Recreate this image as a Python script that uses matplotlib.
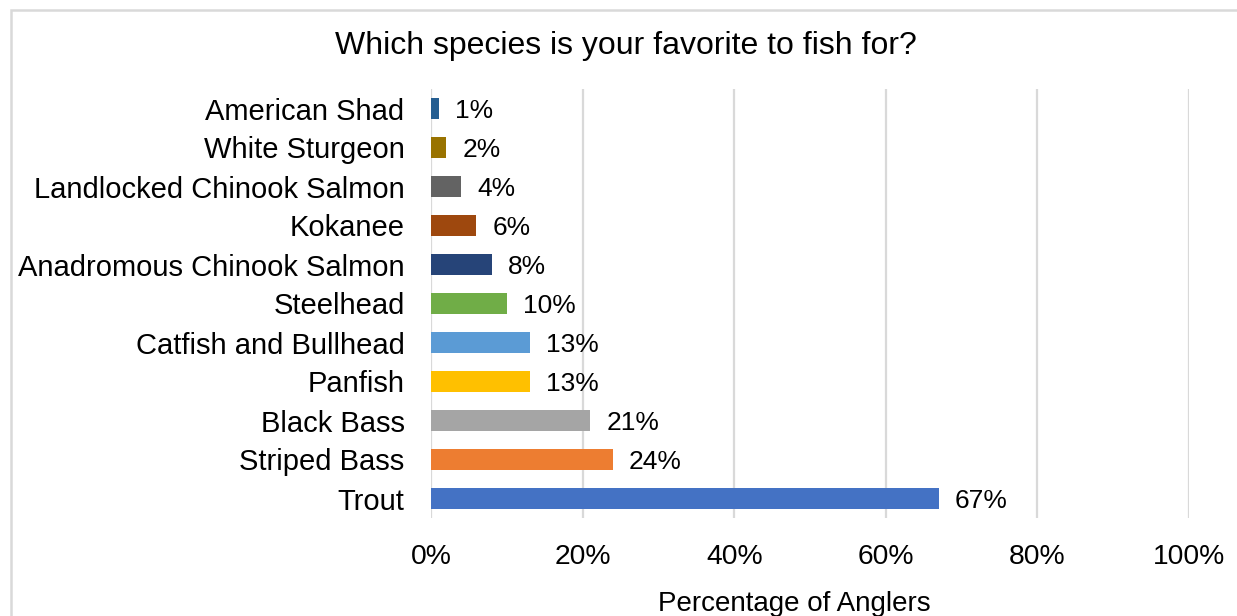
import numpy as np
import matplotlib.pyplot as plt
from matplotlib.patches import Rectangle

species = ['Trout', 'Striped Bass', 'Black Bass', 'Panfish', 'Catfish and Bullhead',
           'Steelhead', 'Anadromous Chinook Salmon', 'Kokanee', 'Landlocked Chinook Salmon',
           'White Sturgeon', 'American Shad']
percent = [67, 24, 21, 13, 13, 10, 8, 6, 4, 2, 1]
colores = ['#4472C4', '#ED7D31', '#A5A5A5', '#FFC000', '#5B9BD5', '#70AD47',
           '#264478', '#9E480E', '#636363', '#997300', '#255E91']
ticks = [0, 20, 40, 60, 80, 100]

plt.rcParams['font.family'] = ['Liberation Sans', 'DejaVu Sans']

W, H = 1237, 616
fig = plt.figure(figsize=(W / 100, H / 100), dpi=100)
ax = fig.add_axes([431 / W, 1 - 518 / H, (1189 - 431) / W, (518 - 89) / H])

# marco gris del area del grafico
fig.patches.append(Rectangle((10.5 / W, -0.1), 1.2, 1 - 9.5 / H + 0.1,
                             transform=fig.transFigure, fill=False,
                             edgecolor='#d9d9d9', linewidth=1.8))

y = np.arange(len(species))
ax.barh(y, percent, height=0.56, color=colores, zorder=3)
for yi, v in zip(y, percent):
    ax.annotate(f'{v}%', (v, yi), xytext=(11.5, -1.5), textcoords='offset points',
                va='center', ha='left', fontsize=19, color='black')

ax.set_xlim(0, 100)
ax.set_ylim(-0.5, len(species) - 0.5)
ax.set_yticks(y)
ax.set_yticklabels(species, fontsize=21)
ax.set_xticks(ticks)
ax.set_xticklabels([f'{t}%' for t in ticks], fontsize=20.3)
ax.tick_params(axis='y', length=0, pad=19)
ax.tick_params(axis='x', length=0, pad=19)
ax.grid(axis='x', color='#d9d9d9', linewidth=1.6, zorder=0)
for s in ax.spines.values():
    s.set_visible(False)

fig.text(626 / W, 1 - 54 / H, 'Which species is your favorite to fish for?',
         ha='center', va='baseline', fontsize=23)
fig.text(794 / W, 1 - 611 / H, 'Percentage of Anglers',
         ha='center', va='baseline', fontsize=20)

fig.savefig('out.png', dpi=100)
